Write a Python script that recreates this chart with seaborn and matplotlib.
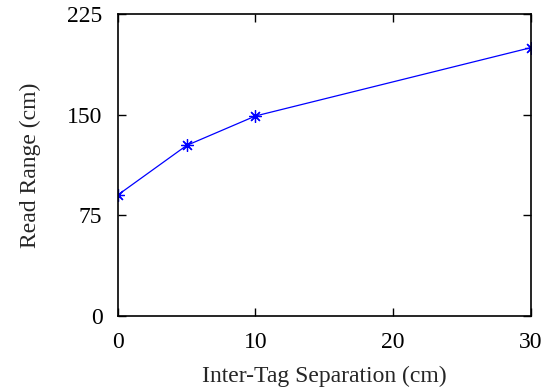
import pandas as pd
import seaborn as sns
import matplotlib
matplotlib.use("Agg")
import matplotlib.pyplot as plt

# values
separation = [0, 5, 10, 30]
read_range = [90, 127, 149, 200]

x_ticks = [0, 10, 20, 30]
y_ticks = [0, 75, 150, 225]

df = pd.DataFrame({"Separation": separation, "Range": read_range})

sns.set_style("ticks")
plt.rcParams['font.family'] = ['Liberation Serif', 'DejaVu Serif']
plt.rcParams['font.size'] = 17

fig = plt.figure(figsize=(5.48, 3.92), dpi=100)
ax = fig.add_axes([0.2148, 0.1946, 0.969 - 0.2148, 0.964 - 0.1946])

sns.lineplot(data=df, x="Separation", y="Range", ax=ax, color="#0000ff",
             linewidth=0.9, marker=(8, 2, 0), markersize=9,
             markeredgecolor="#0000ff", markeredgewidth=0.9)

ax.set_xlim(0, 30)
ax.set_ylim(0, 225)
ax.set_xticks(x_ticks)
ax.set_yticks(y_ticks)
ax.tick_params(direction="in", length=6, width=1, top=True, right=True,
               labelsize=17, colors="black")
ax.tick_params(axis="x", pad=12)
ax.tick_params(axis="y", pad=11)
for s in ax.spines.values():
    s.set_linewidth(1.2)
    s.set_color("black")

ax.set_xlabel("Inter-Tag Separation (cm)", fontsize=17, labelpad=9)
ax.set_ylabel("Read Range (cm)", fontsize=17, labelpad=19)

fig.savefig("out.png", dpi=100)
